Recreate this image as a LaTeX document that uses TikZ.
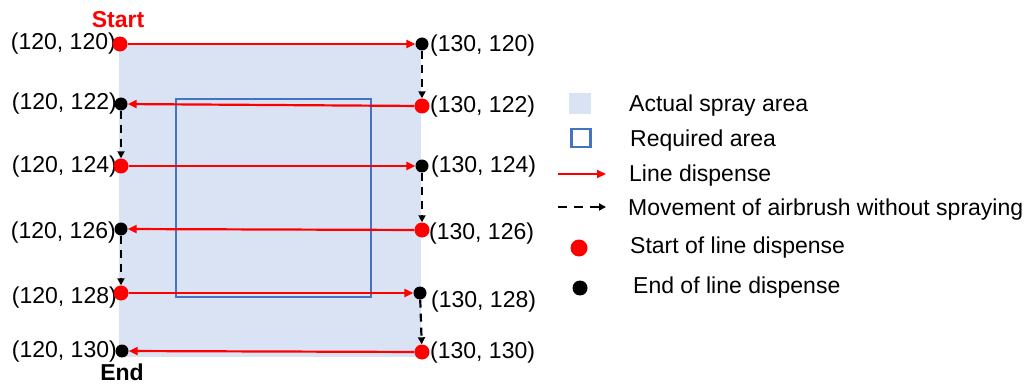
\documentclass[tikz,border=0pt]{standalone}
\usepackage{fontspec}
\setmainfont{Liberation Sans}
\usetikzlibrary{arrows.meta}
\definecolor{sprayblue}{HTML}{DAE3F3}
\definecolor{reqblue}{HTML}{4472C4}
\definecolor{dred}{HTML}{FF0000}
\begin{document}
\begin{tikzpicture}[x=1pt,y=-1pt,
  font=\fontsize{23}{27}\selectfont,
  startdot/.style={circle,fill=dred,inner sep=0pt,minimum size=15pt},
  enddot/.style={circle,fill=black,inner sep=0pt,minimum size=13pt},
  dispense/.style={draw=dred,line width=2.2pt,-{Triangle[length=9pt,width=8pt]}},
  movedash/.style={draw=black,line width=2.2pt,dash pattern=on 8pt off 6pt,-{Triangle[length=7pt,width=7pt]}},
  lftlbl/.style={anchor=base east,inner sep=0pt},
  rgtlbl/.style={anchor=base west,inner sep=0pt},
  legendtxt/.style={anchor=base west,inner sep=0pt}]
\useasboundingbox (0,0) rectangle (1029,385);
% spray area and required area
\fill[sprayblue] (119,44) rectangle (421,357);
\draw[reqblue,line width=2.2pt] (176,99) rectangle (371,297);
% coordinate labels
\node[lftlbl] (t120) at (116,50) {(120, 120)};
\node[lftlbl] (t122) at (117,110) {(120, 122)};
\node[lftlbl] (t124) at (117,173) {(120, 124)};
\node[lftlbl] (t126) at (116,238) {(120, 126)};
\node[lftlbl] (t128) at (117,303) {(120, 128)};
\node[lftlbl] (t130) at (117,357) {(120, 130)};
\node[rgtlbl] (u120) at (430,52) {(130, 120)};
\node[rgtlbl] (u122) at (430,113) {(130, 122)};
\node[rgtlbl] (u124) at (431,173) {(130, 124)};
\node[rgtlbl] (u126) at (429,240) {(130, 126)};
\node[rgtlbl] (u128) at (431,307) {(130, 128)};
\node[rgtlbl] (u130) at (430,358) {(130, 130)};
\node[anchor=base,inner sep=0pt,text=dred,font=\fontsize{23}{27}\selectfont\bfseries] (start) at (118,28) {Start};
\node[anchor=base,inner sep=0pt,font=\fontsize{23}{27}\selectfont\bfseries] (end) at (122,380) {End};
% dots
\node[startdot] (l120) at (120,44) {};
\node[enddot]   (r120) at (422,44) {};
\node[enddot]   (l122) at (121,104) {};
\node[startdot] (r122) at (422,106) {};
\node[startdot] (l124) at (121,166) {};
\node[enddot]   (r124) at (422,166) {};
\node[enddot]   (l126) at (121,229) {};
\node[startdot] (r126) at (422,230) {};
\node[startdot] (l128) at (121,293) {};
\node[enddot]   (r128) at (420,293) {};
\node[enddot]   (l130) at (122,351) {};
\node[startdot] (r130) at (422,352) {};
% line dispense
\draw[dispense] (l120) -- (r120);
\draw[dispense] (r122) -- (l122);
\draw[dispense] (l124) -- (r124);
\draw[dispense] (r126) -- (l126);
\draw[dispense] (l128) -- (r128);
\draw[dispense] (r130) -- (l130);
% movement without spraying
\draw[movedash] (r120) -- (r122);
\draw[movedash] (l122) -- (l124);
\draw[movedash] (r124) -- (r126);
\draw[movedash] (l126) -- (l128);
\draw[movedash] (r128) -- (r130);
% legend
\node[fill=sprayblue,inner sep=0pt,minimum width=22pt,minimum height=21pt] (lgspray) at (580,104) {};
\node[draw=reqblue,line width=2.2pt,inner sep=0pt,minimum width=19pt,minimum height=18pt] (lgreq) at (581,138) {};
\coordinate (lgla) at (558,174);
\coordinate (lglb) at (606,174);
\draw[dispense,line width=1.8pt] (lgla) -- (lglb);
\coordinate (lgma) at (558,207);
\coordinate (lgmb) at (606,207);
\draw[movedash,line width=1.8pt,dash pattern=on 9pt off 7pt] (lgma) -- (lgmb);
\node[startdot,minimum size=17pt] (lgstart) at (579,248) {};
\node[enddot,minimum size=15pt] (lgend) at (580,288) {};
\node[legendtxt] (lt1) at (629,112) {Actual spray area};
\node[legendtxt] (lt2) at (630,147) {Required area};
\node[legendtxt] (lt3) at (629,182) {Line dispense};
\node[legendtxt] (lt4) at (628,215) {Movement of airbrush without spraying};
\node[legendtxt] (lt5) at (630,253) {Start of line dispense};
\node[legendtxt] (lt6) at (633,293) {End of line dispense};
\end{tikzpicture}
\end{document}
